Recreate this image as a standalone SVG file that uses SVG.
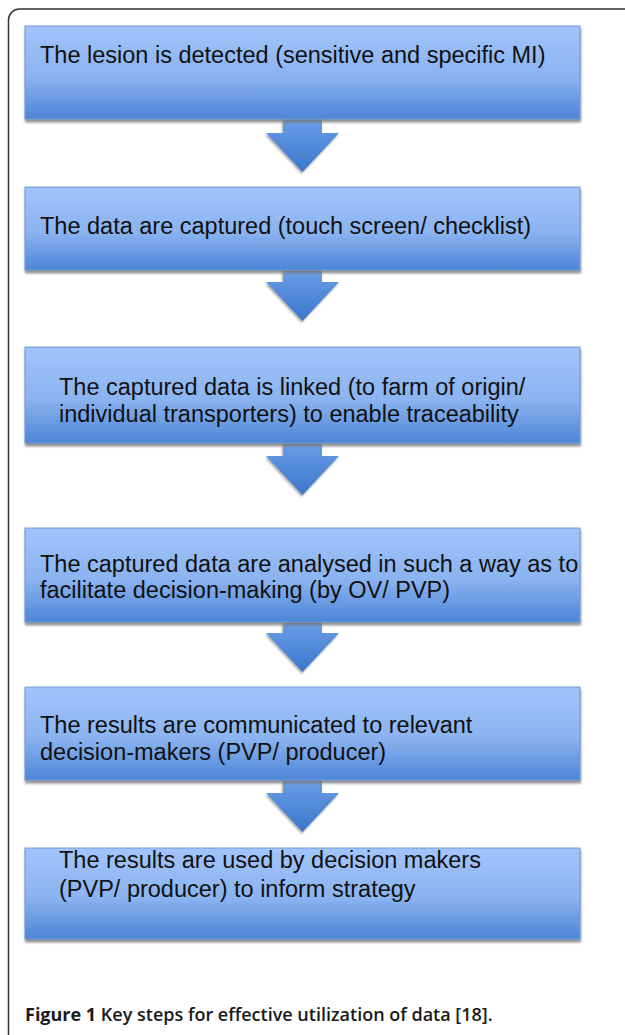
<svg xmlns="http://www.w3.org/2000/svg" width="625" height="1035" viewBox="0 0 625 1035">
<style>
.box{fill:url(#boxg);stroke:#6f9ad8;stroke-width:1;filter:url(#sh)}
.arr{fill:url(#arrg);filter:url(#sh2)}
.t{font-family:"Liberation Sans",Arial,sans-serif;font-size:23.5px;fill:#111}
.cap{font-family:"Open Sans","DejaVu Sans",sans-serif;font-size:18px;fill:#1a1a1a}
</style>
<defs>
<linearGradient id="boxg" x1="0" y1="0" x2="0" y2="1">
<stop offset="0" stop-color="#a2c4fa"/>
<stop offset="0.55" stop-color="#8ab3f0"/>
<stop offset="1" stop-color="#4d85d6"/>
</linearGradient>
<linearGradient id="arrg" x1="0" y1="0" x2="0" y2="1">
<stop offset="0" stop-color="#6a9ee6"/>
<stop offset="1" stop-color="#3b76cb"/>
</linearGradient>
<filter id="sh" x="-5%" y="-10%" width="110%" height="125%">
<feDropShadow dx="0.5" dy="3" stdDeviation="0.8" flood-color="#777" flood-opacity="0.8"/>
</filter>
<filter id="sh2" x="-20%" y="-20%" width="140%" height="150%">
<feDropShadow dx="-1" dy="2" stdDeviation="1" flood-color="#777" flood-opacity="0.6"/>
</filter>
</defs>
<rect width="625" height="1035" fill="#fff"/>
<path d="M8.5,1035 V20 A11,11 0 0 1 19.5,9 H625" fill="none" stroke="#333" stroke-width="1.5"/>
<g id="connectors">
<polygon class="arr" points="283,119 322,119 322,133 339,133 302.5,172 266,133 283,133"/>
<polygon class="arr" points="283,270 322,270 322,282 339,282 302.5,321 266,282 283,282"/>
<polygon class="arr" points="283,443 322,443 322,456 339,456 302.5,495 266,456 283,456"/>
<polygon class="arr" points="283,622 322,622 322,633 339,633 302.5,672 266,633 283,633"/>
<polygon class="arr" points="283,780 322,780 322,793 339,793 302.5,832 266,793 283,793"/>
</g>
<g id="n1"><rect class="box" x="25" y="26" width="555" height="93"/>
<text class="t" x="40" y="63">The lesion is detected (sensitive and specific MI)</text></g>
<g id="n2"><rect class="box" x="25" y="187" width="555" height="83"/>
<text class="t" x="40" y="234">The data are captured (touch screen/ checklist)</text></g>
<g id="n3"><rect class="box" x="25" y="347" width="555" height="96"/>
<text class="t" x="59" y="395">The captured data is linked (to farm of origin/</text>
<text class="t" x="59" y="422">individual transporters) to enable traceability</text></g>
<g id="n4"><rect class="box" x="25" y="528" width="555" height="94"/>
<text class="t" x="40" y="572">The captured data are analysed in such a way as to</text>
<text class="t" x="40" y="598">facilitate decision-making (by OV/ PVP)</text></g>
<g id="n5"><rect class="box" x="25" y="687" width="555" height="93"/>
<text class="t" x="40" y="733">The results are communicated to relevant</text>
<text class="t" x="40" y="760">decision-makers (PVP/ producer)</text></g>
<g id="n6"><rect class="box" x="25" y="848" width="555" height="91"/>
<text class="t" x="59" y="868">The results are used by decision makers</text>
<text class="t" x="59" y="897">(PVP/ producer) to inform strategy</text></g>
<text class="cap" x="25" y="1021"><tspan font-weight="700">Figure 1</tspan><tspan font-weight="600"> Key steps for effective utilization of data [18].</tspan></text>
</svg>
